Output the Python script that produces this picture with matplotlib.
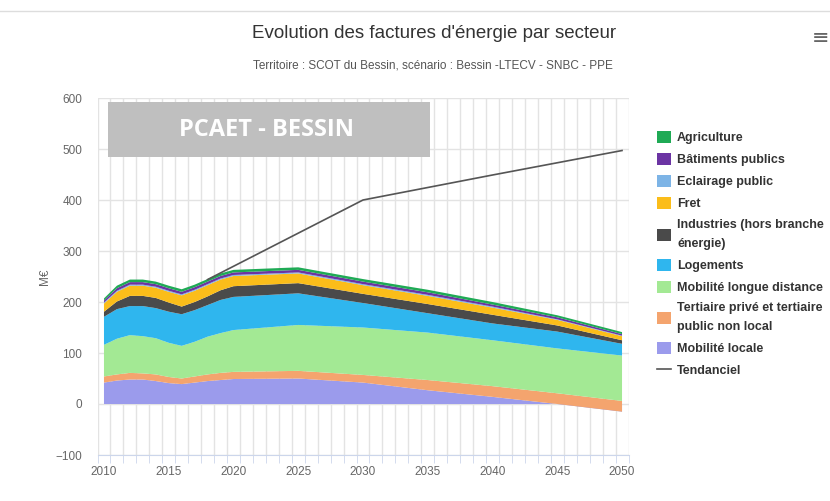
import matplotlib
matplotlib.use("Agg")
import matplotlib.pyplot as plt
from matplotlib.patches import Rectangle
from matplotlib.lines import Line2D
from matplotlib.ticker import MultipleLocator, FixedLocator

plt.rcParams['font.family'] = ['Liberation Sans', 'DejaVu Sans']

years = [2010, 2011, 2012, 2013, 2014, 2015, 2016, 2017, 2018, 2019, 2020,
         2025, 2030, 2035, 2040, 2045, 2050]

# bottom -> top of the stack
mob_locale = [42, 46, 48, 48, 45, 41, 39, 42, 45, 47, 49, 50, 42, 27, 14, 0, -15]
tertiaire = [12, 12, 13, 12, 13, 12, 11, 12, 13, 14, 14, 15, 15, 20, 21, 21, 21]
mob_longue = [62, 70, 74, 73, 71, 67, 64, 68, 74, 78, 82, 90, 93, 93, 90, 88, 89]
logements = [55, 58, 57, 59, 59, 61, 62, 62, 62, 65, 65, 62, 48, 38, 33, 33, 23]
industries = [10, 15, 20, 20, 20, 18, 15, 16, 17, 19, 21, 20, 18, 18, 17, 12, 7]
fret = [16, 19, 20, 20, 20, 21, 22, 22, 22, 21, 20, 19, 17, 16, 14, 11, 8]
eclairage = [2, 2, 2, 2, 2, 2, 2, 2, 2, 2, 2, 2, 2, 2, 2, 1, 1]
batiments = [4, 5, 5, 5, 5, 5, 5, 5, 5, 5, 5, 5, 5, 5, 4, 4, 3]
agriculture = [4, 5, 5, 5, 5, 5, 5, 5, 5, 5, 5, 5, 5, 5, 5, 4, 4]

tend_years = [2018, 2020, 2025, 2030, 2040, 2050]
tendanciel = [244, 270, 335, 400, 449, 497]

series = [mob_locale, tertiaire, mob_longue, logements, industries, fret,
          eclairage, batiments, agriculture]
labels = ["Mobilité locale", "Tertiaire privé et tertiaire\npublic non local",
          "Mobilité longue distance", "Logements",
          "Industries (hors branche\nénergie)", "Fret", "Eclairage public",
          "Bâtiments publics", "Agriculture"]
colors = ["#9b9bec", "#f4a46e", "#a3e994", "#2fb6ee", "#4a4a4a", "#fbbd1a",
          "#7db4e6", "#6b34a3", "#1faa55"]

fig = plt.figure(figsize=(8.3, 5.01), dpi=100)
ax = fig.add_axes([97.5 / 830, 1 - 455 / 501, 531 / 830, 357 / 501])

polys = ax.stackplot(years, *series, colors=colors, linewidth=0)
line, = ax.plot(tend_years, tendanciel, color="#555555", lw=1.2)

ax.set_xlim(2009.5, 2050.5)
ax.set_ylim(-100, 600)
ax.yaxis.set_major_locator(MultipleLocator(100))
ax.xaxis.set_major_locator(FixedLocator(range(2010, 2051, 5)))
ax.xaxis.set_minor_locator(FixedLocator([y + 0.5 for y in range(2009, 2051)]))
ax.grid(axis="y", color="#e3e3e3", lw=1)
ax.grid(axis="x", which="minor", color="#e3e3e3", lw=1)
ax.set_axisbelow(True)
for s in ["top", "left", "right"]:
    ax.spines[s].set_visible(False)
ax.spines["bottom"].set_color("#ccd6eb")
ax.tick_params(axis="x", which="major", length=0, labelsize=8.5, colors="#666666", pad=8)
ax.tick_params(axis="x", which="minor", length=6, color="#ccd6eb")
ax.tick_params(axis="y", length=0, labelsize=8.5, colors="#666666", pad=11)
ax.set_ylabel("M€", color="#666666", fontsize=8.5, labelpad=3)

# title / subtitle
fig.text(434 / 830, 1 - 34 / 501, "Evolution des factures d'énergie par secteur",
         ha="center", va="center", fontsize=13.5, color="#333333")
fig.text(433 / 830, 1 - 65 / 501, "Territoire : SCOT du Bessin, scénario : Bessin -LTECV - SNBC - PPE",
         ha="center", va="center", fontsize=8.5, color="#555555")
fig.text(821 / 830, 1 - 38 / 501, "≡", ha="center", va="center", fontsize=15,
         color="#666666", family="DejaVu Sans")
fig.add_artist(Line2D([0, 1], [1 - 11 / 501, 1 - 11 / 501], color="#dddddd", lw=1))

# banner
fig.add_artist(Rectangle((108 / 830, 1 - 157 / 501), 322 / 830, 55 / 501,
                         facecolor="#bfbfbf", edgecolor="none"))
fig.text(266 / 830, 1 - 130 / 501, "PCAET - BESSIN", ha="center", va="center",
         fontsize=17, fontweight="bold", color="white", family="Open Sans")

handles = list(polys)[::-1] + [line]
leg_labels = labels[::-1] + ["Tendanciel"]
leg = fig.legend(handles, leg_labels, loc="upper left",
                 bbox_to_anchor=(652 / 830, 1 - 126 / 501), frameon=False,
                 prop={"weight": "bold", "size": 9}, labelcolor="#333333",
                 handlelength=1.15, handleheight=1.1, handletextpad=0.45,
                 labelspacing=0.7, borderaxespad=0)
for t in leg.get_texts():
    t.set_linespacing(1.75)

fig.savefig("out.png", dpi=100)
